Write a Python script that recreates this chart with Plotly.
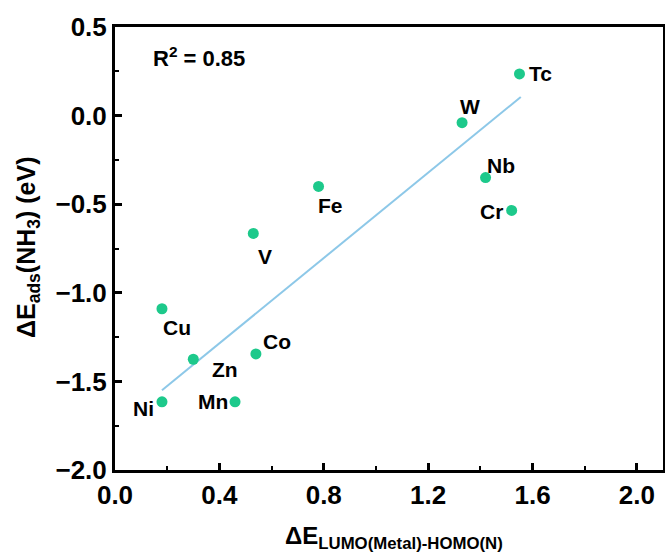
import plotly.graph_objects as go

# Data
metals = ["Tc", "W", "Nb", "Cr", "Fe", "V", "Cu", "Zn", "Co", "Ni", "Mn"]
delta_e_gap = [1.55, 1.33, 1.42, 1.52, 0.78, 0.53, 0.18, 0.30, 0.54, 0.18, 0.46]
delta_e_ads = [0.235, -0.04, -0.35, -0.535, -0.40, -0.665, -1.09, -1.375, -1.345, -1.615, -1.615]
fit_x = [0.18, 1.555]
fit_y = [-1.55, 0.105]
r2_text = "R<sup>2</sup> = 0.85"
x_ticks = [0.0, 0.4, 0.8, 1.2, 1.6, 2.0]
y_ticks = [-2.0, -1.5, -1.0, -0.5, 0.0, 0.5]

# label offsets in pixels (styling)
label_offsets = {
    "Tc": (21, 0), "W": (8, 16), "Nb": (15, 12), "Cr": (-20, -1),
    "Fe": (12, -19), "V": (12, -23), "Cu": (15, -19), "Zn": (32, -10),
    "Co": (21, 12), "Ni": (-18, -7), "Mn": (-22, 0),
}

W, H = 665, 554
ML, MR, MT, MB = 115, 2, 27, 84
PW, PH = W - ML - MR, H - MT - MB


def px_x(x):
    return (x - ML) / PW


def px_y(y):
    return 1 - (y - MT) / PH


FONT = "Liberation Sans, Arial, sans-serif"
BLACK = "#000000"
GREEN = "#1DC98B"
BLUE = "#8DC8E8"

fig = go.Figure()
fig.add_trace(go.Scatter(x=fit_x, y=fit_y, mode="lines",
                         line=dict(color=BLUE, width=2), showlegend=False,
                         hoverinfo="skip"))
fig.add_trace(go.Scatter(x=delta_e_gap, y=delta_e_ads, mode="markers",
                         marker=dict(color=GREEN, size=11, line=dict(width=0)),
                         showlegend=False))

for m, xv, yv in zip(metals, delta_e_gap, delta_e_ads):
    dx, dy = label_offsets[m]
    fig.add_annotation(x=xv, y=yv, xref="x", yref="y", text=m,
                       showarrow=False, xshift=dx, yshift=dy,
                       xanchor="center", yanchor="middle",
                       font=dict(family=FONT, size=21, color=BLACK, weight="bold"))

fig.add_annotation(x=px_x(151), y=px_y(57), xref="paper", yref="paper", text=r2_text,
                   showarrow=False, xanchor="left", yanchor="middle",
                   font=dict(family=FONT, size=22, color=BLACK, weight="bold"))

# axis titles
fig.add_annotation(x=px_x(394), y=px_y(537), xref="paper", yref="paper",
                   text="ΔE<sub>LUMO(Metal)-HOMO(N)</sub>", showarrow=False,
                   xanchor="center", yanchor="middle",
                   font=dict(family=FONT, size=24, color=BLACK, weight="bold"))
fig.add_annotation(x=px_x(28), y=px_y(248), xref="paper", yref="paper",
                   text="ΔE<sub>ads</sub>(NH<sub>3</sub>) (eV)", showarrow=False,
                   textangle=-90, xanchor="center", yanchor="middle",
                   font=dict(family=FONT, size=25, color=BLACK, weight="bold"))

fig.update_layout(
    width=W, height=H,
    margin=dict(l=ML, r=MR, t=MT, b=MB, autoexpand=False),
    paper_bgcolor="white", plot_bgcolor="white",
    font=dict(family=FONT, color=BLACK),
)

fig.update_xaxes(range=[0, 2.1], tickvals=x_ticks,
                 ticktext=[f"{v:.1f}" for v in x_ticks],
                 showgrid=False, zeroline=False, showline=True, linecolor=BLACK,
                 linewidth=3, mirror=True, ticks="inside", ticklen=7, tickwidth=2.5,
                 tickcolor=BLACK,
                 minor=dict(ticks="inside", ticklen=4, tickwidth=2, tickcolor=BLACK,
                            tickvals=[0.2, 0.6, 1.0, 1.4, 1.8], showgrid=False),
                 tickfont=dict(family=FONT, size=26, color=BLACK, weight="bold"))
fig.update_yaxes(range=[-2.0, 0.5], tickvals=y_ticks,
                 ticktext=[f"{v:.1f}".replace("-", "\u2212") for v in y_ticks],
                 showgrid=False, zeroline=False, showline=True, linecolor=BLACK,
                 linewidth=3, mirror=True, ticks="inside", ticklen=7, tickwidth=2.5,
                 tickcolor=BLACK,
                 minor=dict(ticks="inside", ticklen=4, tickwidth=2, tickcolor=BLACK,
                            tickvals=[-1.75, -1.25, -0.75, -0.25, 0.25], showgrid=False),
                 tickfont=dict(family=FONT, size=26, color=BLACK, weight="bold"))

fig.write_html("out.html", config={"displayModeBar": False},
               post_script="document.body.style.margin='0';document.body.style.overflow='hidden';")
